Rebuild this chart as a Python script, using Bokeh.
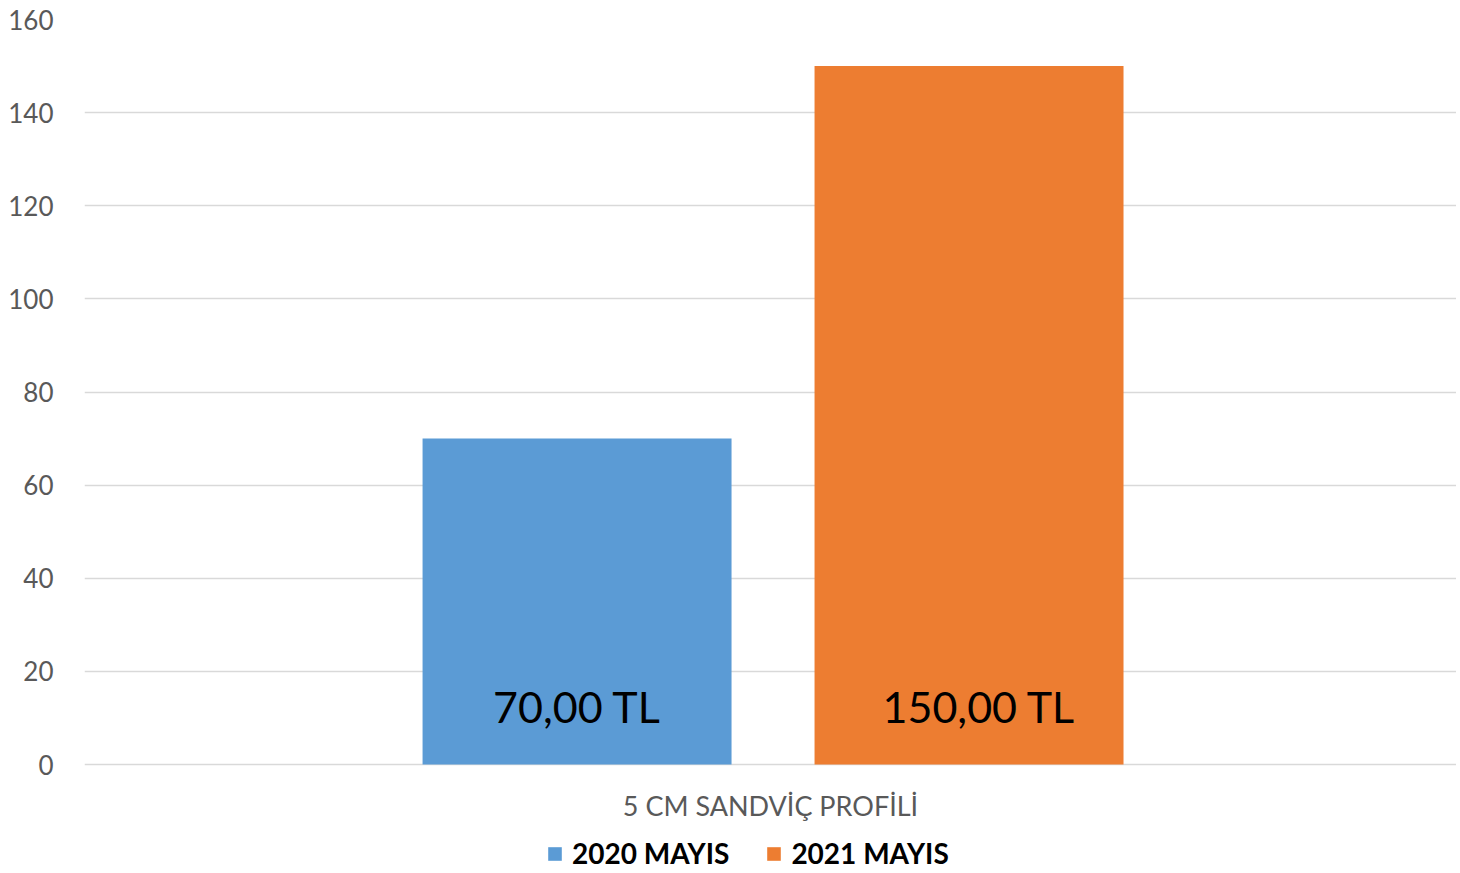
from bokeh.plotting import figure
from bokeh.models import (ColumnDataSource, Legend, LegendItem, FactorRange, Range1d,
                          FixedTicker, LabelSet)
from bokeh.transform import dodge
from bokeh.core.properties import value
from bokeh.embed import file_html
from bokeh.resources import INLINE

category = ["5 CM SANDVİÇ PROFİLİ"]
series_names = ["2020 MAYIS", "2021 MAYIS"]
series_values = [70, 150]
value_labels = ["70,00 TL", "150,00 TL"]
series_colors = ["#5b9bd5", "#ed7d31"]
y_ticks = [0, 20, 40, 60, 80, 100, 120, 140, 160]

# frame: 745 px for 0..160; extend below 0 to host the category label and legend
px_per_unit = 745 / 160
frame_h = 870 - 19
y_bottom = 160 - frame_h / px_per_unit

p = figure(x_range=FactorRange(*category, range_padding=0), y_range=Range1d(y_bottom, 160),
           width=1456, height=870, output_backend="svg", toolbar_location=None,
           min_border_left=84, min_border_right=0, min_border_top=19, min_border_bottom=0)
p.outline_line_color = None
p.background_fill_color = "white"
p.border_fill_color = "white"

offsets = [-0.141, 0.1447]
bar_w = 0.2252
items = []
for i, name in enumerate(series_names):
    src = ColumnDataSource(dict(cat=category, val=[series_values[i]], lab=[value_labels[i]]))
    r = p.vbar(x=dodge("cat", offsets[i], range=p.x_range), top="val", width=bar_w,
               source=src, fill_color=series_colors[i], line_color=None)
    items.append(LegendItem(label=name, renderers=[r]))
    lbl = LabelSet(x=dodge("cat", offsets[i], range=p.x_range), y=0, text="lab", source=src,
                   text_align="center", text_baseline="alphabetic", y_offset=42,
                   x_offset=(0 if i == 0 else 10),
                   text_font=value("Lato"), text_font_size="43px", text_color="black")
    p.add_layout(lbl)

# category label under the baseline
cat_src = ColumnDataSource(dict(cat=category, y=[0] * len(category)))
p.add_layout(LabelSet(x="cat", y="y", text="cat", source=cat_src, text_align="center",
                      text_baseline="middle", y_offset=-41, text_font=value("Lato"),
                      text_font_size="27px", text_color="#595959"))

p.xaxis.visible = False

p.yaxis.ticker = FixedTicker(ticks=y_ticks)
p.yaxis.axis_line_color = None
p.yaxis.major_tick_line_color = None
p.yaxis.major_tick_out = 0
p.yaxis.major_tick_in = 0
p.yaxis.minor_tick_line_color = None
p.yaxis.major_label_standoff = 31
p.yaxis.major_label_text_font = "Lato"
p.yaxis.major_label_text_font_size = "26px"
p.yaxis.major_label_text_color = "#595959"

p.xgrid.grid_line_color = None
p.ygrid.grid_line_color = "#d9d9d9"
p.ygrid.grid_line_width = 1.5

legend = Legend(items=items, orientation="horizontal", location=(462, 0),
                label_text_font="Lato", label_text_font_style="bold", label_text_font_size="28px",
                label_text_color="black", label_text_line_height=1.0, label_height=20,
                glyph_width=17, glyph_height=17, label_standoff=9,
                spacing=36, border_line_color=None, background_fill_alpha=0, padding=0, margin=0)
p.add_layout(legend, "center")

open("out.html", "w").write(file_html(p, INLINE))
